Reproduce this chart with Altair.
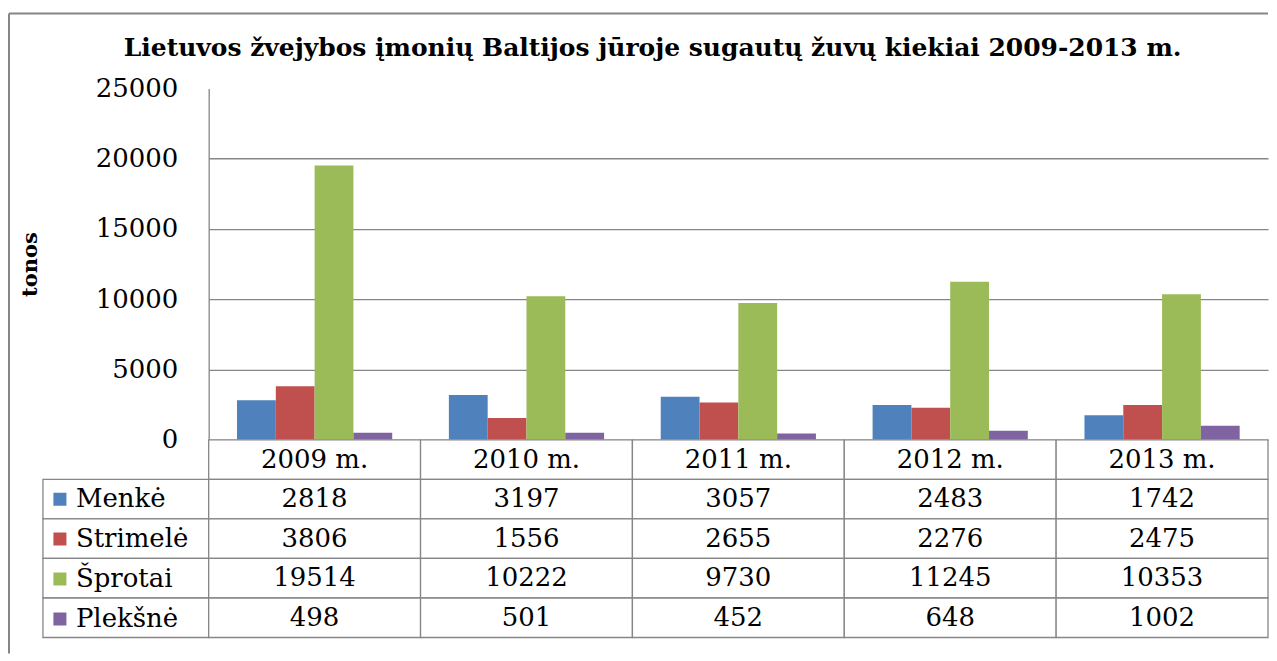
import altair as alt
import pandas as pd

# ---- data ----
years = ["2009 m.", "2010 m.", "2011 m.", "2012 m.", "2013 m."]
series = ["Menkė", "Strimelė", "Šprotai", "Plekšnė"]
menke = [2818, 3197, 3057, 2483, 1742]
strimele = [3806, 1556, 2655, 2276, 2475]
sprotai = [19514, 10222, 9730, 11245, 10353]
plekesne = [498, 501, 452, 648, 1002]
colors = ["#4F81BD", "#C0504D", "#9BBB59", "#8064A2"]
y_ticks = [0, 5000, 10000, 15000, 20000, 25000]
title_text = "Lietuvos žvejybos įmonių Baltijos jūroje sugautų žuvų kiekiai 2009-2013 m."
y_title = "tonos"
header_key = "_hdr"

values_by_series = [menke, strimele, sprotai, plekesne]
rows = [header_key] + series

long_df = pd.DataFrame(
    [{"year": y, "series": s, "value": v[i]}
     for s, v in zip(series, values_by_series) for i, y in enumerate(years)]
)
text_df = pd.DataFrame(
    [{"year": y, "row": header_key, "label": y} for y in years]
    + [{"year": y, "row": s, "label": str(v[i])}
       for s, v in zip(series, values_by_series) for i, y in enumerate(years)]
)
cells_df = pd.DataFrame([{"year": y, "row": r} for r in rows for y in years])
label_cells_df = pd.DataFrame({"row": series, "series": series})
frame_df = pd.DataFrame({"k": [0]})

GRID = "#868686"
SERIF = "DejaVu Serif"
W_PLOT = 1061
H_PLOT = 352
W_LAB = 166
H_TAB = 198

x_scale = alt.Scale(domain=years, paddingInner=0, paddingOuter=0)
row_scale = alt.Scale(domain=rows, paddingInner=0, paddingOuter=0)
color_scale = alt.Scale(domain=series, range=colors)

# ---- top-left: outer frame ----
frame_left = alt.Chart(frame_df).mark_rule(color=GRID, strokeWidth=2).encode(
    x=alt.value(-34), y=alt.value(-75), y2=alt.value(566)
)
frame_top = alt.Chart(frame_df).mark_rule(color=GRID, strokeWidth=2).encode(
    x=alt.value(-34), x2=alt.value(W_LAB + W_PLOT), y=alt.value(-75)
)
blank = alt.layer(frame_left, frame_top).properties(width=W_LAB, height=H_PLOT)

# ---- top-right: bars ----
bars = alt.Chart(long_df).mark_bar().encode(
    x=alt.X("year:N", sort=years, scale=x_scale, axis=None),
    xOffset=alt.XOffset("series:N", sort=series,
                        scale=alt.Scale(domain=series, paddingInner=0, paddingOuter=0.73)),
    y=alt.Y("value:Q", scale=alt.Scale(domain=[0, 25000], nice=False),
            axis=alt.Axis(values=y_ticks, format="d", title=y_title, ticks=False,
                          domainColor=GRID, domainWidth=1.3,
                          gridColor=GRID, gridWidth=1.3,
                          gridOpacity={"condition": {"test": "datum.value >= 25000", "value": 0}, "value": 1},
                          labelFont=SERIF, labelFontSize=26, labelColor="black",
                          labelPadding=31,
                          titleFont=SERIF, titleFontSize=21, titleFontWeight="bold",
                          titleColor="black", titlePadding=55)),
    color=alt.Color("series:N", sort=series, scale=color_scale, legend=None),
).properties(
    width=W_PLOT, height=H_PLOT,
    title=alt.TitleParams(title_text, font=SERIF, fontSize=25, fontWeight="bold",
                          color="black", anchor="middle", frame="bounds", offset=14, dx=9),
)

# ---- bottom-left: series labels column ----
label_cells = alt.Chart(label_cells_df).mark_rect(fill="white", stroke=GRID, strokeWidth=1.3).encode(
    y=alt.Y("row:N", scale=row_scale, axis=None)
)
legend_holder = alt.Chart(label_cells_df).mark_square(size=0, opacity=1).encode(
    y=alt.Y("row:N", scale=row_scale, axis=None),
    color=alt.Color("series:N", sort=series, scale=color_scale,
                    legend=alt.Legend(orient="none", legendX=4, legendY=39.6, title=None,
                                      symbolType="square", symbolSize=170, symbolOpacity=1,
                                      symbolStrokeWidth=0,
                                      labelFont=SERIF, labelFontSize=26, labelColor="black",
                                      labelOffset=3, clipHeight=39.6, rowPadding=0,
                                      padding=0, labelLimit=200)),
)
labels_panel = alt.layer(label_cells, legend_holder).properties(width=W_LAB, height=H_TAB)

# ---- bottom-right: data table ----
table_cells = alt.Chart(cells_df).mark_rect(fill="white", stroke=GRID, strokeWidth=1.3).encode(
    x=alt.X("year:N", sort=years, scale=x_scale, axis=None),
    y=alt.Y("row:N", scale=row_scale, axis=None),
)
table_text = alt.Chart(text_df).mark_text(font=SERIF, fontSize=26, color="black").encode(
    x=alt.X("year:N", sort=years, scale=x_scale, axis=None),
    y=alt.Y("row:N", scale=row_scale, axis=None),
    text="label:N",
)
table_panel = alt.layer(table_cells, table_text).properties(width=W_PLOT, height=H_TAB)

chart = alt.concat(
    blank, bars, labels_panel, table_panel,
    columns=2, spacing=0, bounds="flush", align="each",
).resolve_scale(
    color="independent"
).properties(
    padding={"left": 0, "top": 4, "right": 0, "bottom": 0},
    background="white",
).configure_view(strokeWidth=0)

chart.save("out.html", embed_options={"renderer": "svg", "actions": False})
